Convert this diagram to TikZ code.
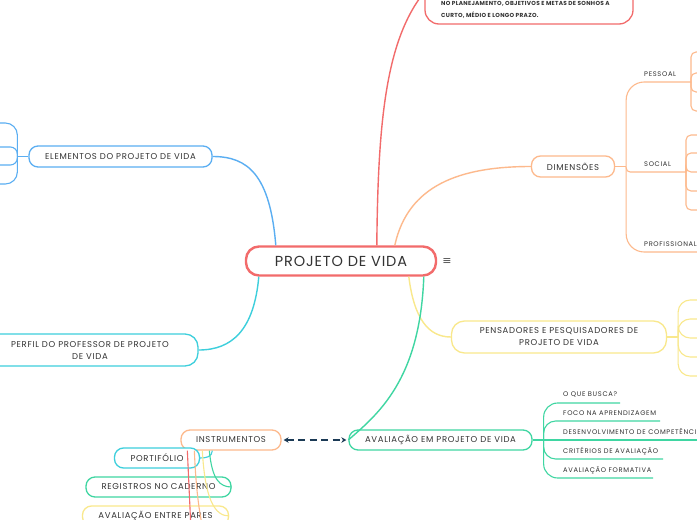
\documentclass[tikz,border=0pt]{standalone}
\usepackage{fontspec}
\setmainfont{Poppins}
\newfontfamily\symfont{DejaVu Sans}
\usetikzlibrary{arrows.meta}
\definecolor{cred}{HTML}{F26B6B}
\definecolor{cblue}{HTML}{5AAEF2}
\definecolor{ccyan}{HTML}{3DCFDC}
\definecolor{corange}{HTML}{FDB98C}
\definecolor{cyellow}{HTML}{F9E88C}
\definecolor{cgreen}{HTML}{3FD6A2}
\definecolor{cnavy}{HTML}{1B3A55}
\definecolor{tx}{HTML}{333333}
\begin{document}
\begin{tikzpicture}[x=1pt,y=-1pt,
  box/.style={draw, fill=white, rounded corners=9pt, line width=1.3pt, text=tx,
    font=\fontsize{8.5}{12}\selectfont\addfontfeature{LetterSpace=8}, inner sep=0pt, align=center},
  conn/.style={line width=1.4pt},
  sub/.style={line width=1.1pt},
  item/.style={text=tx, font=\fontsize{6.7}{8}\selectfont\addfontfeature{LetterSpace=10}, inner sep=0pt, anchor=west}
]
\clip (0,0) rectangle (697,520);
\fill[white] (0,0) rectangle (697,520);

% central node
\node[box, draw=cred, line width=2.4pt, rounded corners=13pt, minimum width=190pt, minimum height=29pt,
  font=\fontsize{14.5}{16}\selectfont\addfontfeature{LetterSpace=6}] (c) at (341,261) {PROJETO DE VIDA};
\node[text=tx!85, font=\symfont\fontsize{11}{12}\selectfont, inner sep=0pt] (menu) at (447,262) {≡};

% top red box
\node[box, draw=cred, rounded corners=14pt, minimum width=208pt, minimum height=64pt] (top) at (529,-8) {};
\node[text=tx, font=\fontsize{5.8}{12}\selectfont\bfseries\addfontfeature{LetterSpace=5}, inner sep=0pt, anchor=west, align=left] (toptext) at (441,10)
  {NO PLANEJAMENTO, OBJETIVOS E METAS DE SONHOS A\\CURTO, MÉDIO E LONGO PRAZO.};

% main branches
\node[box, draw=cblue, minimum width=183pt, minimum height=21pt] (el) at (120.5,156.5) {ELEMENTOS DO PROJETO DE VIDA};
\node[box, draw=ccyan, rounded corners=13pt, minimum width=216pt, minimum height=32pt] (pf) at (90,350)
  {PERFIL DO PROFESSOR DE PROJETO\\DE VIDA};
\node[box, draw=corange, minimum width=83pt, minimum height=21pt] (dim) at (573,166.5) {DIMENSÕES};
\node[box, draw=cyellow, rounded corners=13pt, minimum width=215pt, minimum height=32pt] (pen) at (559,337)
  {PENSADORES E PESQUISADORES DE\\PROJETO DE VIDA};
\node[box, draw=cgreen, minimum width=183pt, minimum height=20pt] (av) at (440.5,440) {AVALIAÇÃO EM PROJETO DE VIDA};
\node[box, draw=corange, minimum width=100pt, minimum height=20pt] (ins) at (231,440) {INSTRUMENTOS};
\node[box, draw=ccyan, minimum width=85pt, minimum height=20pt] (port) at (157,458) {PORTIFÓLIO};
\node[box, draw=cgreen, minimum width=145pt, minimum height=20pt] (reg) at (158.5,487) {REGISTROS NO CADERNO};
\node[box, draw=cyellow, minimum width=146pt, minimum height=20pt] (par) at (155.5,516) {AVALIAÇÃO ENTRE PARES};

% connectors from center
\draw[conn, cred] ([xshift=132pt]c.north west) .. controls (378,120) and (386,40) .. (top.west);
\draw[conn, cblue] ([xshift=31pt]c.north west) .. controls (270,175) and (248,156.5) .. (el.east);
\draw[conn, ccyan] ([xshift=14pt]c.south west) .. controls (254,330) and (232,350) .. (pf.east);
\draw[conn, corange] ([xshift=150pt]c.north west) .. controls (408,185) and (460,166.5) .. (dim.west);
\draw[conn, cyellow] ([xshift=164pt]c.south west) .. controls (414,318) and (428,337) .. (pen.west);
\draw[conn, cgreen] ([xshift=179pt]c.south west) .. controls (420,380) and (378,414) .. (av.west);

% dashed double arrow
\draw[cnavy, line width=1.4pt, dash pattern=on 7pt off 4.5pt,
  {Stealth[length=5pt,width=5.5pt]}-{Stealth[length=5pt,width=5.5pt]}]
  ([xshift=2pt]ins.east) -- ([xshift=-2pt]av.west);

% ELEMENTOS children (left)
\coordinate (ej) at ([xshift=-11pt]el.west);
\draw[sub, cblue] (el.west) -- (ej);
\draw[sub, cblue, rounded corners=12pt] (ej) |- (-5,123);
\draw[sub, cblue, rounded corners=7pt] (ej) |- (-5,147);
\draw[sub, cblue, rounded corners=7pt] (ej) |- (-5,165);
\draw[sub, cblue, rounded corners=12pt] (ej) |- (-5,184);

% DIMENSOES children
\coordinate (dj) at ([xshift=11pt]dim.east);
\coordinate (psj) at (691,82);
\coordinate (soj) at (686,172);
\draw[sub, corange] (dim.east) -- (dj);
\draw[sub, corange, rounded corners=18pt] (dj) |- (psj);
\draw[sub, corange, rounded corners=4pt] (dj) |- (soj);
\draw[sub, corange, rounded corners=18pt] (dj) |- (705,252);
\node[item] (pes) at (644,74) {PESSOAL};
\node[item] (soc) at (644,164) {SOCIAL};
\node[item] (prof) at (644,244) {PROFISSIONAL};
\foreach \y in {52,73,92,111}{
  \draw[sub, corange, rounded corners=5pt] (psj) |- (705,\y);
}
\foreach \y in {135,153,172,191,210}{
  \draw[sub, corange, rounded corners=5pt] (soj) |- (705,\y);
}

% PENSADORES children
\coordinate (pj) at ([xshift=11pt]pen.east);
\draw[sub, cyellow] (pen.east) -- (pj);
\foreach \y in {300,319,338,357,376}{
  \draw[sub, cyellow, rounded corners=12pt] (pj) |- (705,\y);
}

% AVALIACAO children
\coordinate (aj) at ([xshift=11pt]av.east);
\draw[sub, cgreen] (av.east) -- (aj);
\draw[sub, cgreen, rounded corners=14pt] (aj) |- (620,403);
\draw[sub, cgreen, rounded corners=12pt] (aj) |- (660,421);
\draw[sub, cgreen] (aj) -- (705,440);
\draw[sub, cgreen, rounded corners=12pt] (aj) |- (663,459);
\draw[sub, cgreen, rounded corners=14pt] (aj) |- (653,478);
\node[item] (a1) at (563,395) {O QUE BUSCA?};
\node[item] (a2) at (563,413) {FOCO NA APRENDIZAGEM};
\node[item] (a3) at (563,432) {DESENVOLVIMENTO DE COMPETÊNCIAS};
\node[item] (a4) at (563,451) {CRITÉRIOS DE AVALIAÇÃO};
\node[item] (a5) at (563,470) {AVALIAÇÃO FORMATIVA};

% INSTRUMENTOS children (drawn over boxes)
\draw[sub, ccyan] ([xshift=32pt]ins.south west) .. controls (212,457) and (206,458) .. (port.east);
\draw[sub, cgreen] ([xshift=29pt]ins.south west) .. controls (212,480) and (220,487) .. (reg.east);
\draw[sub, cyellow] ([xshift=22pt]ins.south west) .. controls (205,500) and (215,516) .. (par.east);
\coordinate (oe) at (203,530);
\coordinate (re) at (191,530);
\draw[sub, corange] ([xshift=14pt]ins.south west) .. controls (196,490) and (199,510) .. (oe);
\draw[sub, cred] ([xshift=7pt]ins.south west) -- (re);
\end{tikzpicture}
\end{document}
